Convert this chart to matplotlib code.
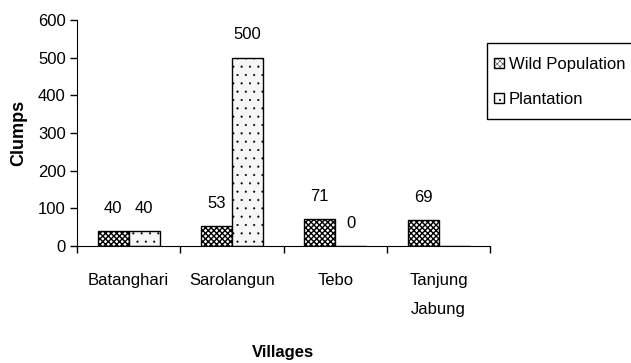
import numpy as np
import matplotlib
matplotlib.use('Agg')
import matplotlib.pyplot as plt
from matplotlib.patches import Rectangle

plt.rcParams['font.family'] = ['Liberation Sans', 'DejaVu Sans']

villages = ['Batanghari', 'Sarolangun', 'Tebo', 'Tanjung\nJabung']
wild = [40, 53, 71, 69]
plantation = [40, 500, 0, None]

fig = plt.figure(figsize=(6.31, 3.63), dpi=100)
ax = fig.add_axes([0.122, 0.322, 0.655, 0.623])

x = np.arange(len(villages))
w = 0.3
fs = 12

plt.rcParams['hatch.color'] = '#222222'
plt.rcParams['hatch.linewidth'] = 1.0
b1 = ax.bar(x - w / 2, wild, w, facecolor='white', edgecolor='black',
            hatch='xxxxxx', linewidth=1.0, label='Wild Population')
plt.rcParams['hatch.color'] = '#555555'
plt.rcParams['hatch.linewidth'] = 0.3
plant_vals = [v if v is not None else 0 for v in plantation]
b2 = ax.bar(x + w / 2, plant_vals, w, facecolor='#f6f6f6', edgecolor='black',
            hatch='..', linewidth=1.0, label='Plantation')

# value labels above bars
for xi, v in zip(x, wild):
    ax.annotate(str(v), (xi - w / 2, v), xytext=(0, 16.5), textcoords='offset points',
                ha='center', va='center', fontsize=fs)
for xi, v in zip(x, plantation):
    if v is None:
        continue
    ax.annotate(str(v), (xi + w / 2, v), xytext=(0, 16.5), textcoords='offset points',
                ha='center', va='center', fontsize=fs)

ax.set_xlim(-0.5, len(villages) - 0.5)
ax.set_ylim(0, 600)
ax.set_yticks(np.arange(0, 601, 100))
ax.set_xticks(np.arange(-0.5, len(villages)), labels=[])
ax.set_xticks(x, labels=villages, minor=True)
ax.tick_params(axis='x', which='minor', length=0, pad=19, labelsize=fs)
ax.tick_params(axis='x', which='major', length=5, width=1)
ax.tick_params(axis='y', length=5, width=1, labelsize=fs, pad=3)
for lab in ax.get_xticklabels(minor=True):
    lab.set_linespacing(2.2)
    lab.set_va('top')

ax.spines['top'].set_visible(False)
ax.spines['right'].set_visible(False)

ax.set_ylabel('Clumps', fontsize=fs + 1, fontweight='bold', labelpad=8)
fig.text(0.449, 0.03, 'Villages', ha='center', va='center', fontsize=fs,
         fontweight='bold')

leg = fig.legend(handles=[b1, b2], loc='upper left', bbox_to_anchor=(487 / 631, 1 - 50 / 363),
                 frameon=False, fontsize=fs, handlelength=0.6, handleheight=0.6,
                 handletextpad=0.3, labelspacing=1.2, borderpad=0.4,
                 borderaxespad=0)
fig.add_artist(Rectangle((487 / 631, 1 - 119 / 363), 0.3, 76 / 363,
                         transform=fig.transFigure, fill=False,
                         edgecolor='black', linewidth=1.0))

fig.savefig('out.png', dpi=100)
